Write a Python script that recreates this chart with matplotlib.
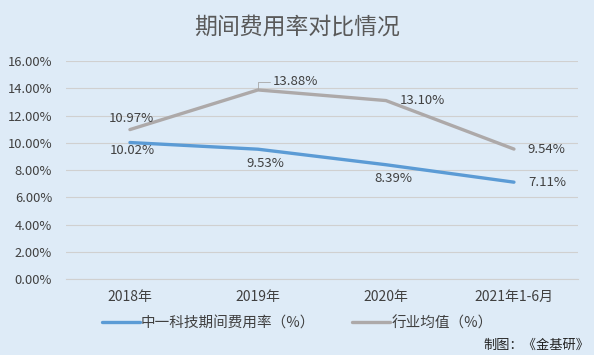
import matplotlib.pyplot as plt
from matplotlib.ticker import FuncFormatter

plt.rcParams['font.family'] = ['Noto Sans CJK SC', 'DejaVu Sans']

categories = ["2018年", "2019年", "2020年", "2021年1-6月"]
company = [10.02, 9.53, 8.39, 7.11]
industry = [10.97, 13.88, 13.10, 9.54]
series_names = ["中一科技期间费用率（%）", "行业均值（%）"]

bg = '#DEEBF7'
blue = '#5B9BD5'
gray = '#ADA9A9'
txt = '#404040'

fig = plt.figure(figsize=(5.94, 3.55), dpi=100, facecolor=bg)
ax = fig.add_axes([0.111, 0.214, 0.862, 0.614], facecolor=bg)

x = list(range(len(categories)))
ax.plot(x, company, color=blue, lw=2.4, solid_capstyle='round', label=series_names[0])
ax.plot(x, industry, color=gray, lw=2.4, solid_capstyle='round', label=series_names[1])

ax.set_xlim(-0.5, len(categories) - 0.5)
ax.set_ylim(0, 16)
ax.set_yticks(range(0, 17, 2))
ax.yaxis.set_major_formatter(FuncFormatter(lambda v, p: f"{v:.2f}%"))
ax.set_xticks(x)
ax.set_xticklabels(categories)
ax.tick_params(axis='both', length=0, colors=txt)
ax.tick_params(axis='y', labelsize=9.3, pad=10)
ax.tick_params(axis='x', labelsize=10, pad=8)
ax.grid(axis='y', color='#D0D0D0', lw=0.8)
ax.set_axisbelow(True)
for s in ['top', 'right', 'left']:
    ax.spines[s].set_visible(False)
ax.spines['bottom'].set_color('#D0D0D0')

fs = 9.5
# company labels
ax.annotate(f"{company[0]:.2f}%", (x[0], company[0]), xytext=(2, -6), textcoords='offset points',
            ha='center', va='center', fontsize=fs, color=txt)
for i in [1, 2]:
    ax.annotate(f"{company[i]:.2f}%", (x[i], company[i]), xytext=(5, -10), textcoords='offset points',
                ha='center', va='center', fontsize=fs, color=txt)
ax.annotate(f"{company[3]:.2f}%", (x[3], company[3]), xytext=(10, 0), textcoords='offset points',
            ha='left', va='center', fontsize=fs, color=txt)
# industry labels
ax.annotate(f"{industry[0]:.2f}%", (x[0], industry[0]), xytext=(1, 8), textcoords='offset points',
            ha='center', va='center', fontsize=fs, color=txt)
ax.annotate(f"{industry[1]:.2f}%", (x[1], industry[1]), xytext=(11, 6), textcoords='offset points',
            ha='left', va='center', fontsize=fs, color=txt,
            arrowprops=dict(arrowstyle='-', color='#A6A6A6', lw=0.6,
                            connectionstyle='angle,angleA=0,angleB=90,rad=0',
                            shrinkA=0, shrinkB=0))
ax.annotate(f"{industry[2]:.2f}%", (x[2], industry[2]), xytext=(10, 0), textcoords='offset points',
            ha='left', va='center', fontsize=fs, color=txt)
ax.annotate(f"{industry[3]:.2f}%", (x[3], industry[3]), xytext=(10, 0), textcoords='offset points',
            ha='left', va='center', fontsize=fs, color=txt)

fig.text(0.5, 0.924, "期间费用率对比情况", ha='center', va='center', fontsize=16.5, color='#595959')

fig.legend(loc='center', bbox_to_anchor=(0.5, 0.09), ncol=2, frameon=False, fontsize=10.5,
           handlelength=2.6, handletextpad=0.1, columnspacing=2.5, labelcolor=txt)

fig.text(0.993, 0.028, "制图：《金基研》", ha='right', va='center', fontsize=9.5, color='#222222')

fig.savefig("out.png", dpi=100, facecolor=bg)
